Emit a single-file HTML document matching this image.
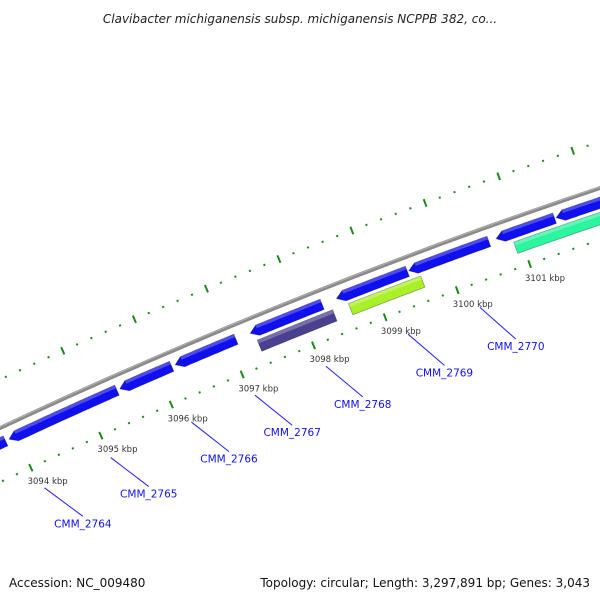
<!DOCTYPE html>
<html><head><meta charset="utf-8"><style>
html,body{margin:0;padding:0;background:#fff;}
svg{display:block;font-family:"DejaVu Sans","Liberation Sans",sans-serif;}
</style></head><body>
<svg id="map" width="600" height="600" viewBox="0 0 600 600" xmlns="http://www.w3.org/2000/svg">
<rect width="600" height="600" fill="#fff"/>
<text x="300" y="23" text-anchor="middle" font-size="12" font-style="italic" fill="#222">Clavibacter michiganensis subsp. michiganensis NCPPB 382, co...</text>
<g id="ticks"></g>
<g id="backbone"></g>
<g id="genes"></g>
<g id="labels"></g>
<text x="9" y="587" font-size="12" fill="#111">Accession: NC_009480</text>
<text x="590" y="587" text-anchor="end" font-size="12" fill="#111">Topology: circular; Length: 3,297,891 bp; Genes: 3,043</text>
</svg>
<script>
// data (bp in kbp)
const tickKbp = [3093,3094,3095,3096,3097,3098,3099,3100,3101,3102,3103];
const tickLabels = ["3094 kbp","3095 kbp","3096 kbp","3097 kbp","3098 kbp","3099 kbp","3100 kbp","3101 kbp"];
const tickLabelKbp = [3094,3095,3096,3097,3098,3099,3100,3101];
const blueStarts = [3093.3,3093.9,3095.47,3096.25,3097.3,3098.5,3099.5,3100.7,3101.52];
const blueEnds   = [3093.85,3095.43,3096.2,3097.1,3098.3,3099.48,3100.6,3101.5,3102.6];
const innerStarts = [3097.35,3098.62,3100.9];
const innerEnds   = [3098.4,3099.62,3102.6];
const innerColors = ["#4a4090","#aaf02a","#2cf5a0"];
const geneNames = ["CMM_2764","CMM_2765","CMM_2766","CMM_2767","CMM_2768","CMM_2769","CMM_2770"];
const geneLabelKbp = [3094.05,3095.0,3096.15,3097.05,3098.05,3099.2,3100.2];

const NS="http://www.w3.org/2000/svg";
const CX=2386, CY=5523;
const REF_ANG=Math.atan2(374-CY,242-CX);
const K=77/5577; // rad per kbp
function ang(kbp){return REF_ANG+(kbp-3097)*K;}
function pt(kbp,r){const a=ang(kbp);return [CX+r*Math.cos(a),CY+r*Math.sin(a)];}
function mk(tag,attrs,parent){const e=document.createElementNS(NS,tag);for(const k in attrs)e.setAttribute(k,attrs[k]);parent.appendChild(e);return e;}
function arcPts(a,b,r){const out=[];const n=20;for(let i=0;i<=n;i++){out.push(pt(a+(b-a)*i/n,r));}return out;}
function poly(points){return points.map(p=>p[0].toFixed(1)+","+p[1].toFixed(1)).join(" ");}

// backbone
const bb=document.getElementById('backbone');
const bbp=mk('polyline',{points:poly(arcPts(3092.5,3104,5626)),fill:'none',stroke:'#8a8a8a','stroke-width':4},bb);


mk('polyline',{points:poly(arcPts(3092.5,3104,5627)),fill:'none',stroke:'#b0b0b0','stroke-width':1},bb);

// ticks
const tg=document.getElementById('ticks');
[5670,5577].forEach((r,ri)=>{
  for(let i=0;i<tickKbp.length-1;i++){
    const base=tickKbp[i];
    for(let j=0;j<5;j++){
      const kb=base+j*0.2;
      if(j===0){
        const a=pt(kb,r-4),b=pt(kb,r+4);
        const l=mk('line',{x1:a[0],y1:a[1],x2:b[0],y2:b[1],stroke:'#1a8a1a','stroke-width':2},tg);
        
        
      } else {
        const a=pt(kb,r-1),b=pt(kb,r+1);
        const l=mk('line',{x1:a[0],y1:a[1],x2:b[0],y2:b[1],stroke:'#1a8a1a','stroke-width':2},tg);
        
        
      }
    }
  }
});
tickLabelKbp.forEach((kb,i)=>{
  const p=pt(kb,5577-16);
  const t=mk('text',{x:p[0]-10,y:p[1]+2,'font-size':8.5,fill:'#333'},tg);
  t.textContent=tickLabels[i];
  
  
});

// genes
const gg=document.getElementById('genes');
function gene(s,e,rc,w,color,arrowLeft,name){
  const ri=rc-w/2, ro=rc+w/2, head=8/5600/K;
  let pts;
  if(arrowLeft){
    const s2=Math.min(s+head,e);
    pts=[pt(s,rc)].concat(arcPts(s2,e,ro),arcPts(e,s2,ri));
  } else {
    pts=arcPts(s,e,ro).concat(arcPts(e,s,ri));
  }
  const g=mk('g',{},gg);
  
  
  mk('polygon',{points:poly(pts),fill:color,stroke:'rgba(0,0,0,0.35)','stroke-width':0.8},g);
  // highlight band
  const hs=arrowLeft?Math.min(s+head,e):s;
  mk('polygon',{points:poly(arcPts(hs,e,ro).concat(arcPts(e,hs,ro-w*0.3))),fill:'rgba(255,255,255,0.25)'},g);
}
blueStarts.forEach((s,i)=>gene(s,blueEnds[i],5612,11,'#1010ee',true,'forward-gene'));
innerStarts.forEach((s,i)=>gene(s,innerEnds[i],5597,12,innerColors[i],false,'feature-gene'));

// gene labels
const lg=document.getElementById('labels');
geneNames.forEach((n,i)=>{
  const kb=geneLabelKbp[i];
  const a=pt(kb,5577-24), b=pt(kb+0.3,5577-66);
  const l=mk('line',{x1:a[0],y1:a[1],x2:b[0]+0*1,y2:b[1],stroke:'#2222ee','stroke-width':1},lg);
  
  
  const t=mk('text',{x:b[0],y:b[1]+11,'text-anchor':'middle','font-size':10.5,fill:'#1010ee'},lg);
  t.textContent=n;
  
  
});
</script>
</body></html>
